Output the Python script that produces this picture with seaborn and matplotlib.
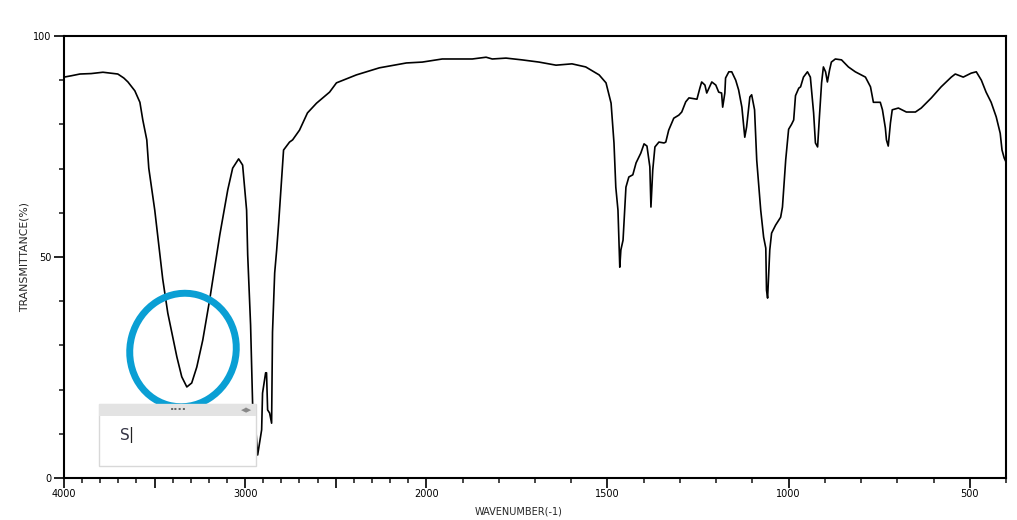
import numpy as np
import matplotlib
matplotlib.use("Agg")
import matplotlib.pyplot as plt
import seaborn as sns
from matplotlib.ticker import FixedLocator, FixedFormatter
from matplotlib.patches import Ellipse, Rectangle

wavenumber = [4000, 3960, 3912, 3850, 3785, 3703, 3670, 3647, 3609, 3581, 3565, 3543, 3532,
              3499, 3455, 3427, 3377, 3350, 3322, 3295, 3267, 3234, 3196, 3179, 3140, 3096,
              3069, 3036, 3014, 2992, 2986, 2970, 2959, 2953, 2942, 2931, 2909, 2904, 2887,
              2882, 2876, 2865, 2854, 2849, 2837, 2826, 2815, 2799, 2788, 2755, 2738, 2700,
              2656, 2606, 2534, 2496, 2386, 2259, 2110, 2022, 1956, 1873, 1835, 1818, 1780,
              1736, 1689, 1642, 1598, 1560, 1523, 1504, 1490, 1482, 1477, 1471, 1466, 1463,
              1457, 1449, 1441, 1430, 1421, 1408, 1399, 1391, 1383, 1380, 1375, 1369, 1358,
              1344, 1339, 1331, 1317, 1303, 1295, 1284, 1275, 1253, 1245, 1240, 1231, 1226,
              1218, 1212, 1201, 1193, 1185, 1182, 1176, 1174, 1165, 1157, 1146, 1138, 1129,
              1121, 1116, 1107, 1102, 1094, 1088, 1077, 1069, 1063, 1061, 1058, 1052, 1047,
              1036, 1022, 1017, 1008, 1000, 992, 986, 981, 972, 967, 959, 948, 940, 931, 926,
              920, 915, 909, 904, 898, 893, 887, 882, 871, 854, 835, 816, 788, 774, 766, 747,
              741, 733, 730, 725, 719, 714, 697, 675, 650, 634, 606, 579, 551, 540, 518, 496,
              482, 468, 455, 441, 427, 416, 411, 405, 400]
transmittance = [90.7, 91.0, 91.4, 91.5, 91.8, 91.4, 90.5, 89.6, 87.6, 85.0, 81.0, 76.5, 70.1,
                 60.6, 45.0, 37.3, 27.4, 22.9, 20.6, 21.5, 25.1, 31.2, 40.3, 44.8, 55.0, 65.2,
                 70.1, 72.2, 70.8, 60.6, 50.5, 34.6, 17.0, 10.9, 11.5, 5.2, 10.9, 19.2, 23.8,
                 23.8, 15.4, 14.7, 12.4, 33.0, 46.4, 51.6, 57.7, 67.4, 74.2, 76.0, 76.5, 78.7,
                 82.6, 84.8, 87.3, 89.4, 91.2, 92.8, 93.9, 94.1, 94.8, 94.8, 95.2, 94.8, 95.0,
                 94.6, 94.1, 93.4, 93.7, 93.0, 91.2, 89.4, 84.8, 75.8, 65.8, 60.6, 47.7, 51.6,
                 53.8, 65.8, 68.1, 68.6, 71.3, 73.5, 75.6, 75.1, 70.4, 61.3, 69.7, 74.9, 76.0,
                 75.8, 76.0, 78.7, 81.4, 82.1, 82.8, 85.1, 86.0, 85.7, 88.2, 89.6, 88.9, 87.1,
                 88.5, 89.6, 88.9, 87.3, 87.1, 83.9, 87.1, 90.5, 91.9, 91.9, 90.0, 87.8, 83.9,
                 77.1, 79.4, 86.2, 86.7, 83.3, 71.9, 60.6, 54.5, 52.0, 42.5, 40.7, 51.6, 55.4,
                 57.2, 59.0, 61.3, 72.0, 78.9, 80.0, 81.0, 86.5, 88.2, 88.5, 90.7, 91.9, 90.7,
                 82.6, 75.8, 74.9, 81.7, 89.4, 93.0, 91.9, 89.6, 92.3, 94.1, 94.8, 94.6, 93.0,
                 91.9, 90.7, 88.5, 85.0, 85.0, 83.3, 79.2, 76.5, 75.1, 80.3, 83.3, 83.7, 82.8,
                 82.8, 83.7, 86.0, 88.5, 90.7, 91.4, 90.7, 91.6, 91.9, 90.0, 87.3, 85.0, 81.7,
                 78.0, 74.2, 72.4, 71.5]

x_major = [4000, 3500, 3000, 2500, 2000, 1500, 1000, 500]
x_major_labels = ["4000", "", "3000", "", "2000", "1500", "1000", "500"]
y_major = [0, 50, 100]
y_major_labels = ["0", "50", "100"]


def fwd(w):
    w = np.asarray(w, dtype=float)
    return np.where(w >= 2000, w, 2 * w - 2000)


def inv(p):
    p = np.asarray(p, dtype=float)
    return np.where(p >= 2000, p, (p + 2000) / 2)


sns.set_style("ticks")
plt.rcParams["font.family"] = ["DejaVu Sans"]

fig = plt.figure(figsize=(10.17, 5.20), dpi=100)
ax = fig.add_axes([64 / 1017, 1 - 478 / 520, (1006 - 64) / 1017, (478 - 36) / 520])
ax.set_xscale("function", functions=(fwd, inv))

sns.lineplot(x=wavenumber, y=transmittance, sort=False, estimator=None,
             color="black", linewidth=1.2, ax=ax)

ax.set_xlim(4000, 400)
ax.set_ylim(0, 100)

ax.xaxis.set_major_locator(FixedLocator(x_major))
ax.xaxis.set_major_formatter(FixedFormatter(x_major_labels))
ax.xaxis.set_minor_locator(FixedLocator([w for w in range(4000, 399, -100) if w not in x_major]))
ax.yaxis.set_major_locator(FixedLocator(y_major))
ax.yaxis.set_major_formatter(FixedFormatter(y_major_labels))
ax.yaxis.set_minor_locator(FixedLocator(list(range(10, 100, 10))))

ax.tick_params(axis="both", which="both", bottom=True, left=True, top=False, right=False)
ax.tick_params(axis="both", which="major", direction="out", length=7, width=1.2,
               labelsize=7, colors="black", pad=2)
ax.tick_params(axis="both", which="minor", direction="out", length=3.5, width=1.2)
ax.tick_params(axis="x", which="major", pad=1)

for s in ax.spines.values():
    s.set_visible(True)
    s.set_linewidth(1.5)
    s.set_color("black")

ax.set_xlabel("WAVENUMBER(-1)", fontsize=7)
ax.set_ylabel("TRANSMITTANCE(%)", fontsize=7.8)
ax.xaxis.set_label_coords((519 - 64) / 942, (478 - 506) / 442)
ax.yaxis.set_label_coords((30 - 64) / 942, 0.5)


def fx(px):
    return px / 1017


def fy(py):
    return 1 - py / 520


# hand-drawn blue loop annotation (inches-based so it stays round)
loop = Ellipse((1.83, (520 - 350) / 100), width=1.06, height=1.14, angle=-15,
               transform=fig.dpi_scale_trans, fill=False, edgecolor="#0a9fd4",
               linewidth=5, zorder=10)
fig.add_artist(loop)

# floating text box
body = Rectangle((fx(99), fy(466)), (256 - 99) / 1017, (466 - 404) / 520,
                 transform=fig.transFigure, facecolor="white", edgecolor="#d8d8d8",
                 linewidth=1, zorder=11)
fig.add_artist(body)
header = Rectangle((fx(99), fy(416)), (256 - 99) / 1017, 12 / 520,
                   transform=fig.transFigure, facecolor="#e3e3e3", edgecolor="none",
                   zorder=12)
fig.add_artist(header)
fig.text(fx(178), fy(410), "····", ha="center", va="center", fontsize=8,
         color="#666666", fontweight="bold", zorder=13)
fig.text(fx(247), fy(410), "◂▸", ha="center", va="center", fontsize=8,
         color="#888888", zorder=13)
fig.text(fx(120), fy(435), "S", ha="left", va="center", fontsize=11,
         color="#333344", zorder=13)
fig.text(fx(128), fy(435), "|", ha="left", va="center", fontsize=11,
         color="#222222", zorder=13)

fig.savefig("out.png", dpi=100)
